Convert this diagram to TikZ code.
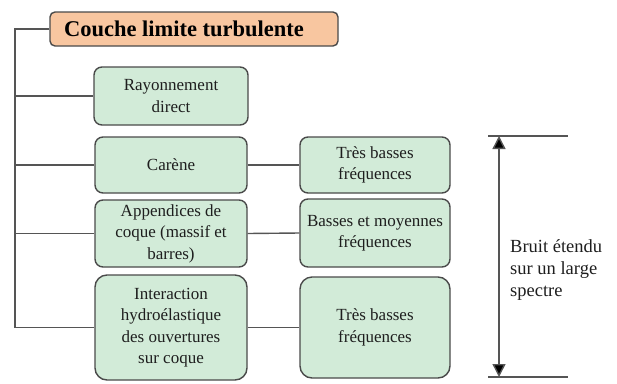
\documentclass[tikz,border=0pt]{standalone}
\usepackage{fontspec}
\setmainfont{Liberation Serif}
\newfontfamily\serifface{Liberation Serif}
\usetikzlibrary{arrows.meta}
\definecolor{boxgreen}{HTML}{D2EBD8}
\definecolor{boxorange}{HTML}{F8C6A0}
\definecolor{edgegray}{HTML}{4A4A4A}
\definecolor{linegray}{HTML}{555555}
\definecolor{txt}{HTML}{1E1E1E}
\tikzset{
  greenbox/.style={draw=edgegray, line width=1.4pt, fill=boxgreen, rounded corners=8pt,
    align=center, inner sep=0pt, text=txt,
    font=\serifface\fontsize{17}{21.5}\selectfont},
  titlebox/.style={draw=edgegray, line width=1.4pt, fill=boxorange, rounded corners=5pt,
    inner sep=0pt, text=black, font=\serifface\fontsize{22.5}{26}\selectfont\bfseries},
  conn/.style={draw=linegray, line width=1.4pt},
  dimline/.style={draw=linegray, line width=1.4pt},
}
\begin{document}
\begin{tikzpicture}[x=1pt,y=-1pt]
\useasboundingbox (0,0) rectangle (617,383);
\node[titlebox, minimum width=288pt, minimum height=34pt] (title) at (194,29) {\hspace*{-20pt}Couche limite turbulente};
\node[greenbox, minimum width=154pt, minimum height=58pt] (ray) at (171,96) {Rayonnement\\direct};
\node[greenbox, minimum width=152pt, minimum height=56pt] (car) at (171,165) {Carène};
\node[greenbox, minimum width=152pt, minimum height=67pt] (app) at (171,233.5) {Appendices de\\coque (massif et\\barres)};
\node[greenbox, minimum width=152pt, minimum height=105pt, rounded corners=12pt] (inter) at (171,327.5) {Interaction\\hydroélastique\\des ouvertures\\sur coque};
\node[greenbox, minimum width=150pt, minimum height=56pt] (tb1) at (375,165) {Très basses\\fréquences};
\node[greenbox, minimum width=150pt, minimum height=68pt] (bm) at (375,233) {Basses et moyennes\\fréquences};
\node[greenbox, minimum width=150pt, minimum height=101pt, rounded corners=12pt] (tb2) at (375,327.5) {Très basses\\fréquences};
\coordinate (t0) at (15,29);
\coordinate (t4) at (15,327.5);
\draw[conn] (title.west) -- (t0) -- (t4) -- (inter.west);
\draw[conn] (t0 |- ray.west) -- (ray.west);
\draw[conn] (t0 |- car.west) -- (car.west);
\draw[conn] (t0 |- app.west) -- (app.west);
\draw[conn] (car.east) -- (tb1.west);
\draw[conn] (app.east) -- (bm.west);
\draw[conn] (inter.east) -- (tb2.west);
\coordinate (d1a) at (488,136);
\coordinate (d1b) at (568,136);
\coordinate (d2a) at (488,377);
\coordinate (d2b) at (568,377);
\coordinate (ar1) at (499,136);
\coordinate (ar2) at (499,377);
\draw[dimline] (d1a) -- (d1b);
\draw[dimline] (d2a) -- (d2b);
\draw[dimline, {Triangle[width=13pt,length=13pt,fill=black]}-{Triangle[width=13pt,length=13pt,fill=black]}] (ar1) -- (ar2);
\node[anchor=west, align=left, inner sep=0pt, text=txt, font=\serifface\fontsize{18.5}{22}\selectfont] (lbl) at (510,270) {Bruit étendu\\sur un large\\spectre};
\end{tikzpicture}
\end{document}
